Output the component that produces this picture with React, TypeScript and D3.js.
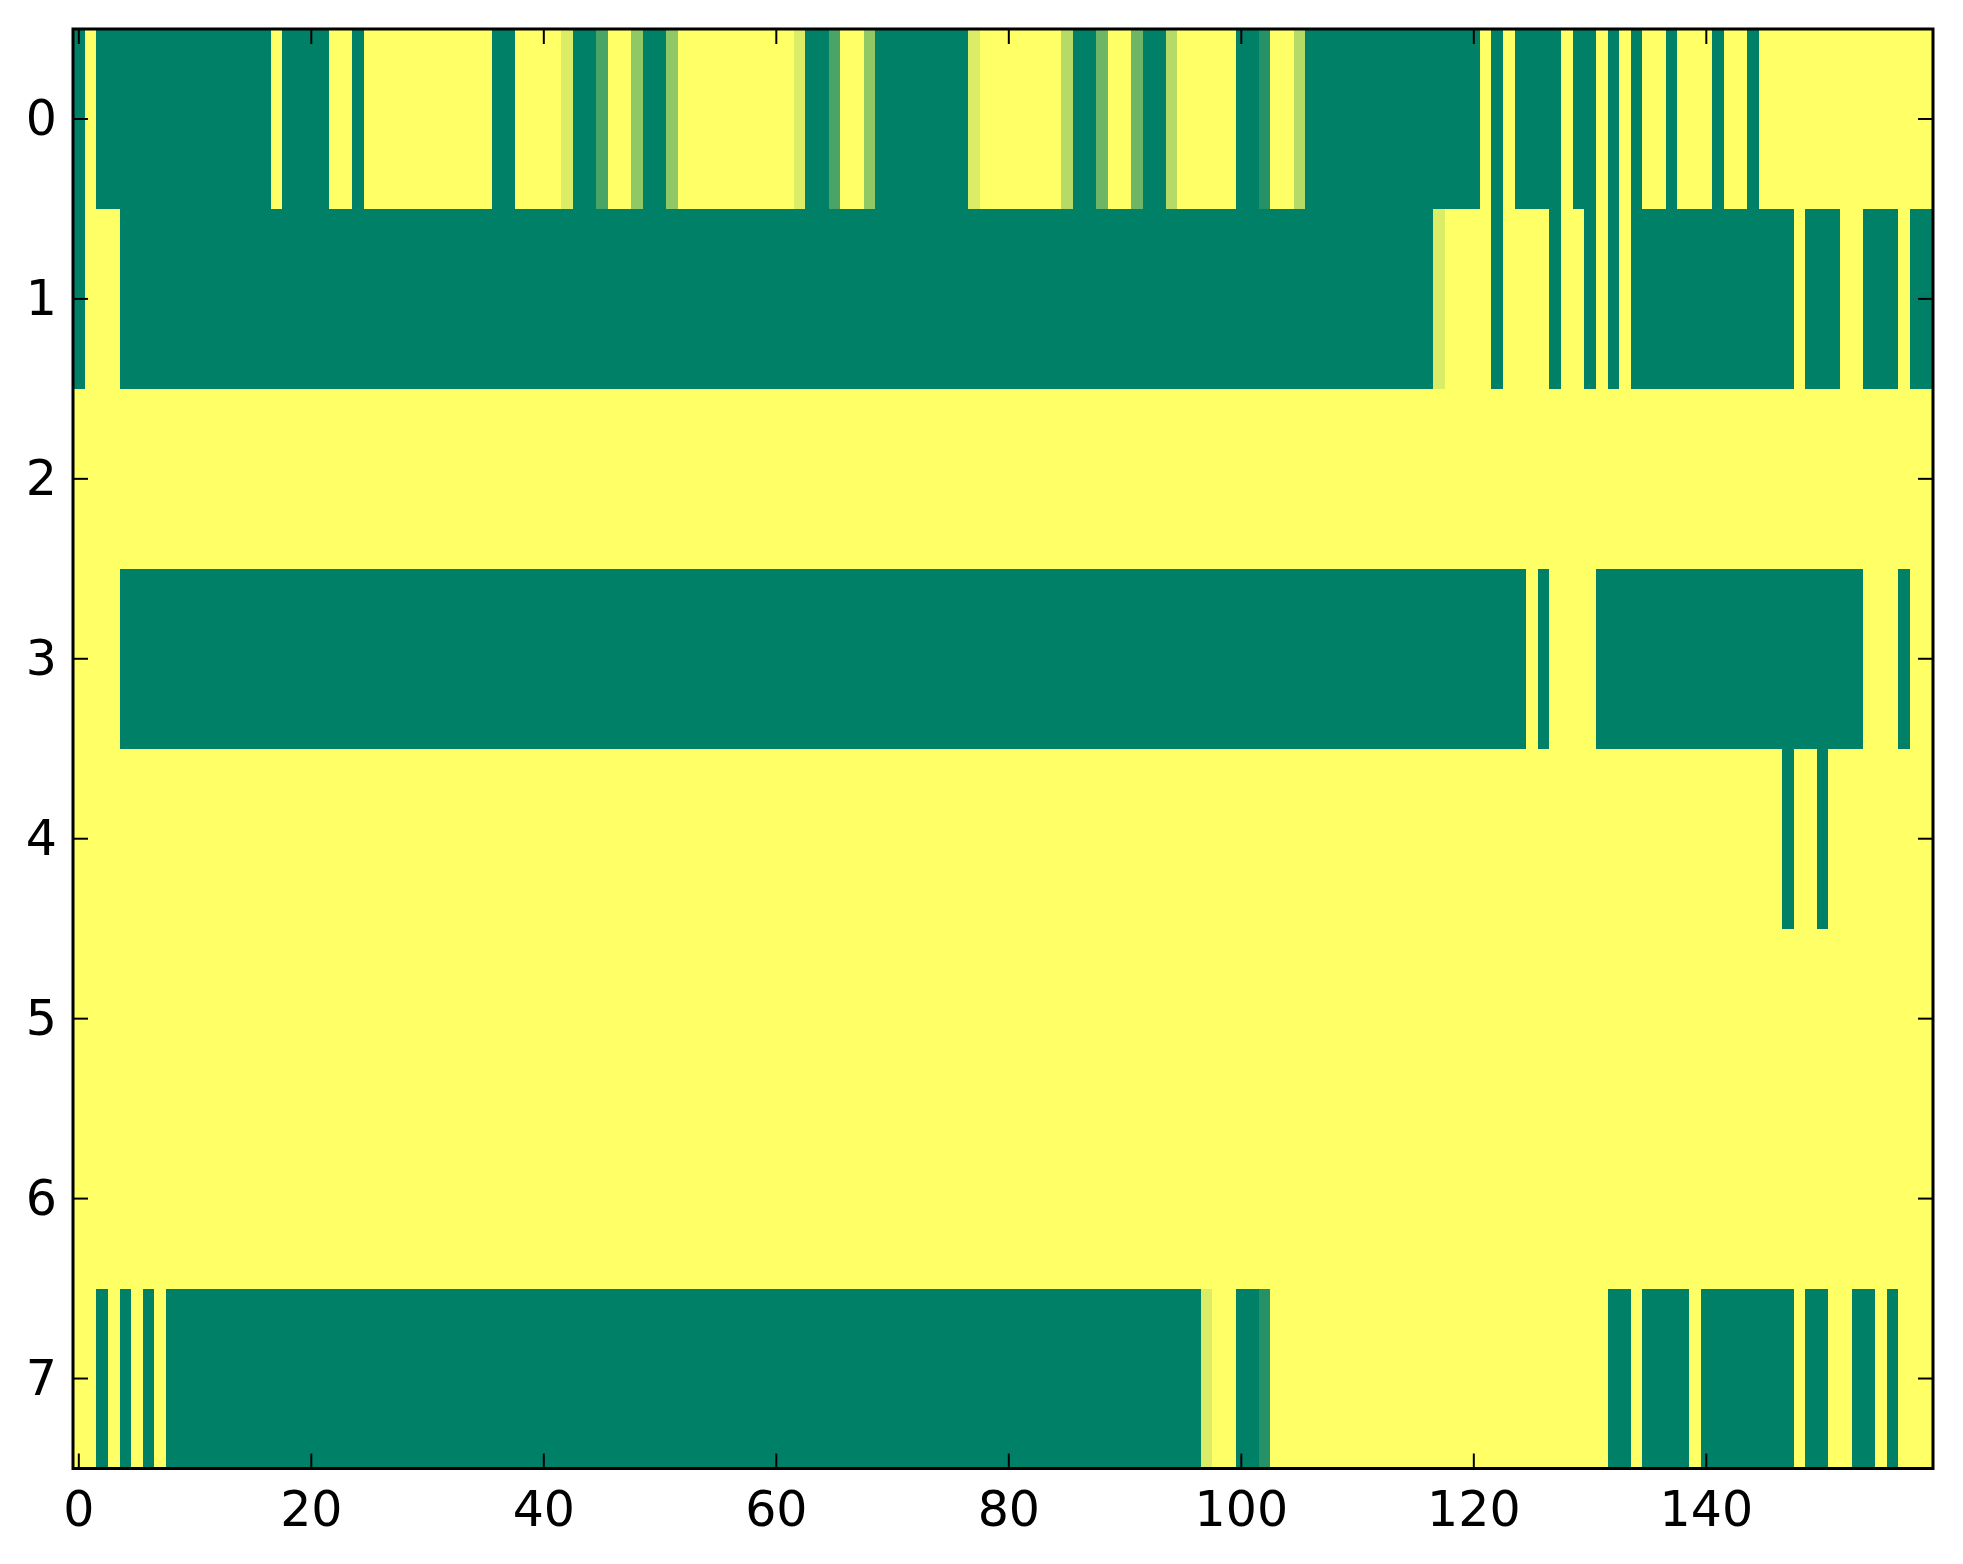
import React from "react";
import * as d3 from "d3";

// each row is a list of [value, run length], read left to right (160 columns)
const row0Runs = [
  [0, 1], [1, 1], [0, 15], [1, 1], [0, 4], [1, 2], [0, 1], [1, 11], [0, 2], [1, 4],
  [0.86, 1], [0, 2], [0.29, 1], [1, 2], [0.57, 1], [0, 2], [0.57, 1], [1, 10], [0.86, 1], [0, 2],
  [0.29, 1], [1, 2], [0.57, 1], [0, 8], [0.86, 1], [1, 7], [0.71, 1], [0, 2], [0.43, 1], [1, 2],
  [0.43, 1], [0, 2], [0.71, 1], [1, 5], [0, 2], [0.14, 1], [1, 2], [0.71, 1], [0, 15], [1, 1],
  [0, 1], [1, 1], [0, 4], [1, 1], [0, 2], [1, 1], [0, 1], [1, 1], [0, 1], [1, 2],
  [0, 1], [1, 3], [0, 1], [1, 2], [0, 1], [1, 15],
];
const row1Runs = [
  [0, 1], [1, 3], [0, 113], [0.86, 1], [1, 4], [0, 1], [1, 4], [0, 1], [1, 2], [0, 1],
  [1, 1], [0, 1], [1, 1], [0, 14], [1, 1], [0, 3], [1, 2], [0, 3], [1, 1], [0, 2],
];
const row2Runs = [[1, 160]];
const row3Runs = [
  [1, 4], [0, 121], [1, 1], [0, 1], [1, 4], [0, 23], [1, 3], [0, 1], [1, 2],
];
const row4Runs = [[1, 147], [0, 1], [1, 2], [0, 1], [1, 9]];
const row5Runs = [[1, 160]];
const row6Runs = [[1, 160]];
const row7Runs = [
  [1, 2], [0, 1], [1, 1], [0, 1], [1, 1], [0, 1], [1, 1], [0, 89], [0.86, 1], [1, 2],
  [0, 2], [0.14, 1], [1, 29], [0, 2], [1, 1], [0, 4], [1, 1], [0, 8], [1, 1], [0, 2],
  [1, 2], [0, 2], [1, 1], [0, 1], [1, 3],
];

const xTicks = [0, 20, 40, 60, 80, 100, 120, 140];
const yTicks = [0, 1, 2, 3, 4, 5, 6, 7];

const W = 1963;
const H = 1564;
const left = 73;
const right = 1933;
const top = 29;
const bottom = 1468.5;
const tickLen = 15;

// matplotlib "summer" colormap
function summer(v: number) {
  return d3.rgb(v * 255, (0.5 + 0.5 * v) * 255, 0.4 * 255).toString();
}

function expand(runs: number[][]) {
  const out: number[] = [];
  runs.forEach(([v, n]) => {
    for (let i = 0; i < n; i++) out.push(v);
  });
  return out;
}

export default function App() {
  const rows = [row0Runs, row1Runs, row2Runs, row3Runs, row4Runs, row5Runs, row6Runs, row7Runs].map(expand);
  const nCols = rows[0].length;

  const x = d3.scaleLinear().domain([-0.5, nCols - 0.5]).range([left, right]);
  const y = d3.scaleLinear().domain([-0.5, rows.length - 0.5]).range([top, bottom]);

  const font = "'DejaVu Sans', sans-serif";

  return (
    <svg
      width={W}
      height={H}
      style={{ position: "absolute", left: 0, top: 0, background: "#fff" }}
    >
      <g shapeRendering="crispEdges">
        {rows.map((row, r) =>
          row.map((v, c) => (
            <rect
              key={`${r}-${c}`}
              x={x(c - 0.5)}
              y={y(r - 0.5)}
              width={x(c + 0.5) - x(c - 0.5) + 0.5}
              height={y(r + 0.5) - y(r - 0.5) + 0.5}
              fill={summer(v)}
            />
          ))
        )}
      </g>

      {/* ticks on all four sides, pointing inward */}
      <g stroke="#000" strokeWidth={2}>
        {xTicks.map((t) => (
          <g key={`xt${t}`}>
            <line x1={x(t)} x2={x(t)} y1={bottom} y2={bottom - tickLen} />
            <line x1={x(t)} x2={x(t)} y1={top} y2={top + tickLen} />
          </g>
        ))}
        {yTicks.map((t) => (
          <g key={`yt${t}`}>
            <line x1={left} x2={left + tickLen} y1={y(t)} y2={y(t)} />
            <line x1={right} x2={right - tickLen} y1={y(t)} y2={y(t)} />
          </g>
        ))}
      </g>

      <rect
        x={left}
        y={top}
        width={right - left}
        height={bottom - top}
        fill="none"
        stroke="#000"
        strokeWidth={3}
      />

      <g fontFamily={font} fontSize={49} fill="#000">
        {xTicks.map((t) => (
          <text key={`xl${t}`} x={x(t)} y={1526} textAnchor="middle">
            {t}
          </text>
        ))}
        {yTicks.map((t) => (
          <text key={`yl${t}`} x={57} y={y(t)} textAnchor="end" dominantBaseline="central">
            {t}
          </text>
        ))}
      </g>
    </svg>
  );
}
